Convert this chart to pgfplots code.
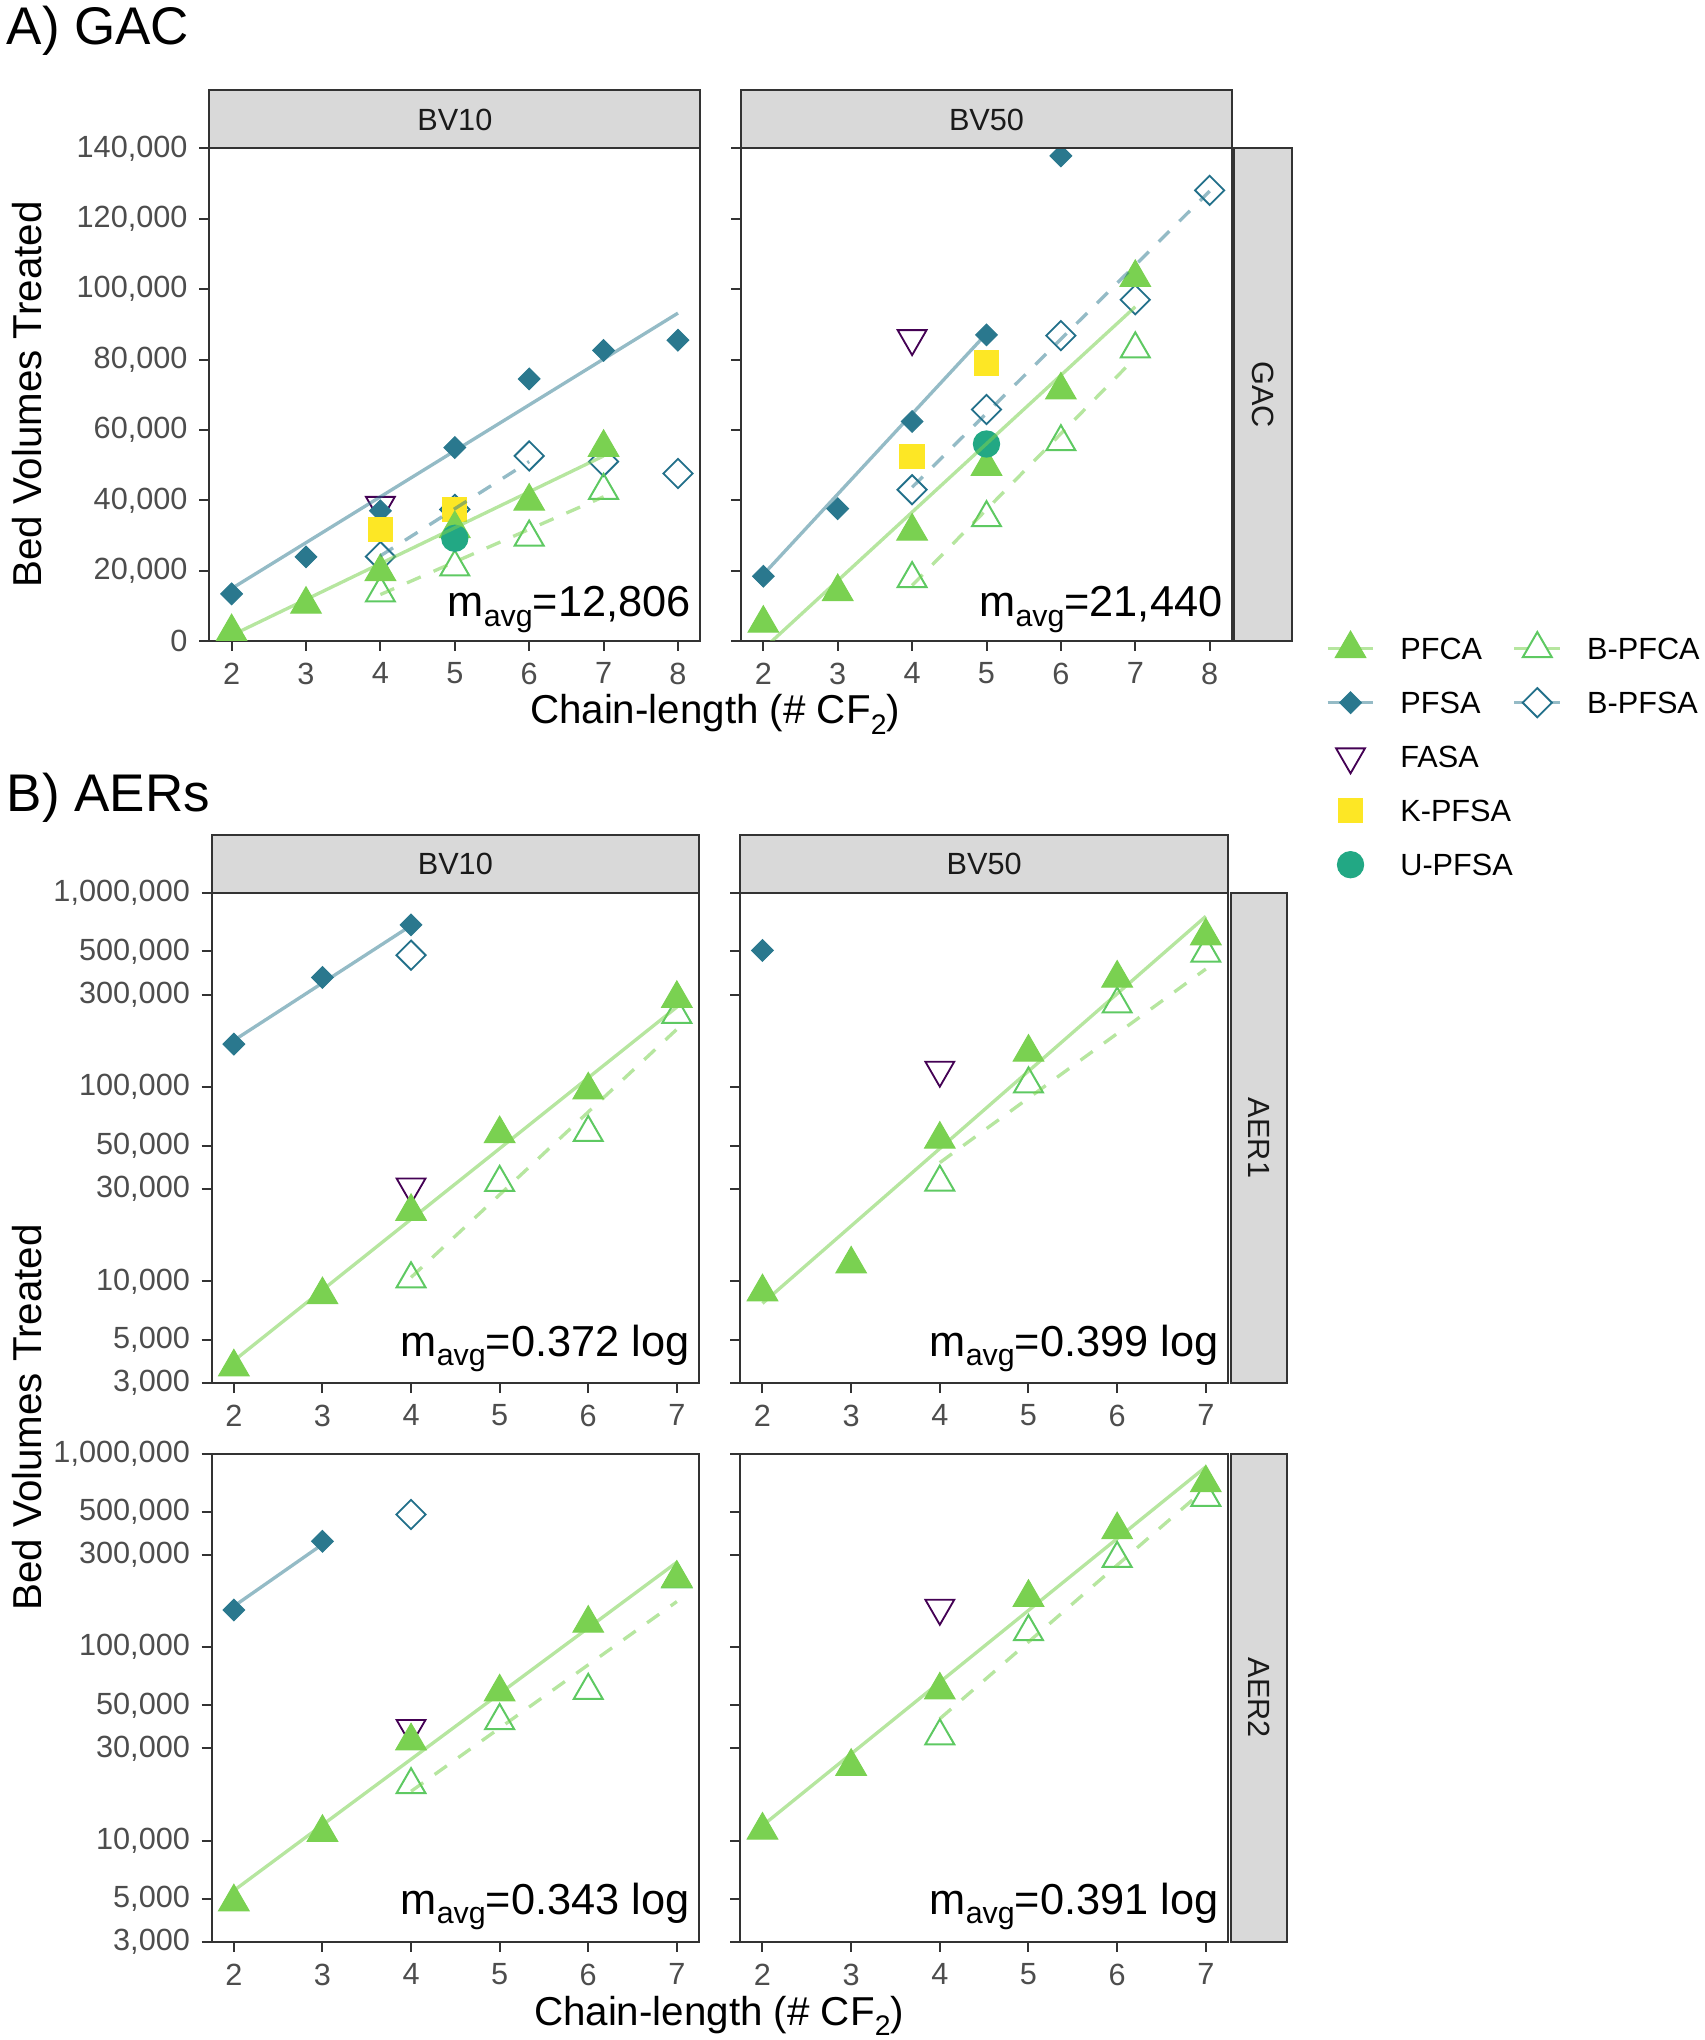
\documentclass[border=0pt]{standalone}
\usepackage{fontspec}
\setmainfont{Liberation Sans}
\usepackage{pgfplots}
\pgfplotsset{compat=1.18}

\definecolor{pfca}{HTML}{7AD151}
\definecolor{bpfca}{HTML}{5EC962}
\definecolor{pfsa}{HTML}{2A788E}
\definecolor{bpfsa}{HTML}{22708A}
\definecolor{fasa}{HTML}{440154}
\definecolor{kpfsa}{HTML}{FDE725}
\definecolor{upfsa}{HTML}{22A884}
\definecolor{grey20}{HTML}{333333}
\definecolor{grey30}{HTML}{4D4D4D}
\definecolor{grey85}{HTML}{D9D9D9}
\definecolor{grey10}{HTML}{1A1A1A}

\newcommand{\tsz}{\fontsize{9.2}{11}\selectfont}
\newcommand{\asz}{\fontsize{12.1}{14}\selectfont}
\newcommand{\msz}{\fontsize{13}{15}\selectfont}
\newcommand{\hsz}{\fontsize{15.9}{18}\selectfont}
\newcommand{\mavg}[1]{m\raisebox{-0.22em}{\fontsize{9.1}{9}\selectfont avg}=#1}

\pgfplotsset{
  panel/.style={scale only axis, anchor=north west, clip marker paths=true,
    tick align=outside, tick pos=left, major tick length=3pt,
    tick style={grey20, line width=0.6pt},
    axis line style={grey20, line width=0.6pt},
    tick label style={font=\tsz, text=grey30},
    scaled y ticks=false, yminorticks=false, xminorticks=false},
  panelA/.style={panel, xmin=1.7, xmax=8.3, ymin=0, ymax=140000,
    xtick={2,3,4,5,6,7,8}, xticklabels={2,3,4,5,6,7,8},
    ytick={0,20000,40000,60000,80000,100000,120000,140000},
    width=147.3pt, height=147.75pt},
  panelB/.style={panel, xmin=1.75, xmax=7.25, ymin=3000, ymax=1000000,
    xtick={2,3,4,5,6,7}, xticklabels={2,3,4,5,6,7},
    ytick={3000,5000,10000,30000,50000,100000,300000,500000,1000000}},
  sPFCA/.style={only marks, mark=triangle*, mark size=5.3pt, color=pfca, mark options={line width=0.3pt}},
  sBPFCA/.style={only marks, mark=triangle, mark size=5.0pt, color=bpfca, mark options={line width=0.6pt}},
  sPFSA/.style={only marks, mark=square*, mark size=2.3pt, color=pfsa, mark options={rotate=45, line width=0.3pt}},
  sBPFSA/.style={only marks, mark=square, mark size=3.1pt, color=bpfsa, mark options={rotate=45, line width=0.55pt}},
  sFASA/.style={only marks, mark=triangle, mark size=5.0pt, color=fasa, mark options={rotate=180, line width=0.55pt}},
  sK/.style={only marks, mark=square*, mark size=3.6pt, color=kpfsa},
  sU/.style={only marks, mark=*, mark size=3.9pt, color=upfsa},
  lPFCA/.style={no marks, line width=1.0pt, color=pfca, draw opacity=0.55},
  lBPFCA/.style={no marks, line width=1.0pt, color=pfca, draw opacity=0.55, dash pattern=on 4.5pt off 4.2pt},
  lPFSA/.style={no marks, line width=1.0pt, color=pfsa, draw opacity=0.5},
  lBPFSA/.style={no marks, line width=1.0pt, color=pfsa, draw opacity=0.5, dash pattern=on 4.5pt off 4.2pt},
}

\begin{document}
\begin{tikzpicture}
\path (0pt,0pt) rectangle (511.2pt,-612pt);

% ---------------- A) GAC, BV10
\begin{axis}[panelA, at={(62.79pt,-44.55pt)},
  yticklabels={0,{20,000},{40,000},{60,000},{80,000},{100,000},{120,000},{140,000}}]
\addplot[sFASA] coordinates {(4,38600)};
\addplot[sPFSA] coordinates {(2,13400)(3,23900)(4,37000)(5,55000)(6,74500)(7,82600)(8,85500)};
\addplot[sBPFSA] coordinates {(4,24000)(5,37400)(6,52600)(7,51000)(8,47600)};
\addplot[sBPFCA] coordinates {(4,13600)(5,21000)(6,29500)(7,42800)};
\addplot[sK] coordinates {(4,31600)(5,37400)};
\addplot[sPFCA] coordinates {(2,2600)(3,10400)(4,19700)(5,31900)(6,39700)(7,55000)};
\addplot[sU] coordinates {(5,29200)};
\addplot[lPFSA] coordinates {(2,14900)(8,93200)};
\addplot[lBPFSA] coordinates {(4,24200)(6,51000)};
\addplot[lPFCA] coordinates {(2,1600)(7,52600)};
\addplot[lBPFCA] coordinates {(4,13200)(7,41000)};
\node[anchor=base east, inner sep=0pt, font=\msz, xshift=-2.7pt, yshift=7.2pt] at (rel axis cs:1,0) {\mavg{12,806}};
\end{axis}

% ---------------- A) GAC, BV50
\begin{axis}[panelA, at={(222.3pt,-44.55pt)}, yticklabels={}]
\addplot[sFASA] coordinates {(4,86000)};
\addplot[sPFSA] coordinates {(2,18400)(3,37600)(4,62400)(5,87000)(6,137900)};
\addplot[sBPFSA] coordinates {(4,43000)(5,65800)(6,86800)(7,97000)(8,128100)};
\addplot[sBPFCA] coordinates {(4,17700)(5,35000)(6,56600)(7,83000)};
\addplot[sK] coordinates {(4,52400)(5,79000)};
\addplot[sPFCA] coordinates {(2,5000)(3,14000)(4,31200)(5,49600)(6,71300)(7,103300)};
\addplot[sU] coordinates {(5,56000)};
\addplot[lPFSA] coordinates {(2,18900)(5,87400)};
\addplot[lBPFSA] coordinates {(4,43700)(8,127900)};
\addplot[lPFCA] coordinates {(2,-2300)(7,95000)};
\addplot[lBPFCA] coordinates {(4,15800)(7,80500)};
\node[anchor=base east, inner sep=0pt, font=\msz, xshift=-2.7pt, yshift=7.2pt] at (rel axis cs:1,0) {\mavg{21,440}};
\end{axis}

% ---------------- B) AERs, AER1 BV10
\begin{axis}[ymode=log, panelB, at={(63.51pt,-267.9pt)}, width=146.19pt, height=147pt,
  yticklabels={{3,000},{5,000},{10,000},{30,000},{50,000},{100,000},{300,000},{500,000},{1,000,000}}]
\addplot[sFASA] coordinates {(4,30700)};
\addplot[sPFSA] coordinates {(2,166700)(3,367400)(4,685500)};
\addplot[sBPFSA] coordinates {(4,478600)};
\addplot[sBPFCA] coordinates {(4,10300)(5,32300)(6,58400)(7,236800)};
\addplot[sPFCA] coordinates {(2,3625)(3,8530)(4,22900)(5,57600)(6,96700)(7,286100)};
\addplot[lPFSA] coordinates {(2,174200)(4,679600)};
\addplot[lPFCA] coordinates {(2,3906)(7,258700)};
\addplot[lBPFCA] coordinates {(4,10490)(7,198800)};
\node[anchor=base east, inner sep=0pt, font=\msz, xshift=-2.7pt, yshift=8.1pt] at (rel axis cs:1,0) {\mavg{0.372 log}};
\end{axis}

% ---------------- AER1 BV50
\begin{axis}[ymode=log, panelB, at={(222.09pt,-267.9pt)}, width=146.31pt, height=147pt, yticklabels={}]
\addplot[sFASA] coordinates {(4,122600)};
\addplot[sPFSA] coordinates {(2,506000)};
\addplot[sBPFCA] coordinates {(4,32400)(5,103800)(6,267800)(7,488900)};
\addplot[sPFCA] coordinates {(2,8830)(3,12280)(4,53900)(5,151300)(6,364200)(7,601000)};
\addplot[lPFCA] coordinates {(2,7710)(7,758500)};
\addplot[lBPFCA] coordinates {(4,40900)(7,406000)};
\node[anchor=base east, inner sep=0pt, font=\msz, xshift=-2.7pt, yshift=8.1pt] at (rel axis cs:1,0) {\mavg{0.399 log}};
\end{axis}

% ---------------- AER2 BV10
\begin{axis}[ymode=log, panelB, at={(63.51pt,-436.05pt)}, width=146.19pt, height=146.55pt,
  yticklabels={{3,000},{5,000},{10,000},{30,000},{50,000},{100,000},{300,000},{500,000},{1,000,000}}]
\addplot[sFASA] coordinates {(4,38100)};
\addplot[sPFSA] coordinates {(2,155500)(3,352100)};
\addplot[sBPFSA] coordinates {(4,484100)};
\addplot[sBPFCA] coordinates {(4,19450)(5,41700)(6,59700)(7,225000)};
\addplot[sPFCA] coordinates {(2,4830)(3,11030)(4,32780)(5,58600)(6,132700)(7,226700)};
\addplot[lPFSA] coordinates {(2,162700)(3,339600)};
\addplot[lPFCA] coordinates {(2,5530)(7,274300)};
\addplot[lBPFCA] coordinates {(4,18000)(7,171900)};
\node[anchor=base east, inner sep=0pt, font=\msz, xshift=-2.7pt, yshift=8.4pt] at (rel axis cs:1,0) {\mavg{0.343 log}};
\end{axis}

% ---------------- AER2 BV50
\begin{axis}[ymode=log, panelB, at={(222.09pt,-436.05pt)}, width=146.31pt, height=146.55pt, yticklabels={}]
\addplot[sFASA] coordinates {(4,159100)};
\addplot[sBPFCA] coordinates {(4,34780)(5,120100)(6,287000)(7,593000)};
\addplot[sPFCA] coordinates {(2,11330)(3,24190)(4,59950)(5,180600)(6,403300)(7,705000)};
\addplot[lPFCA] coordinates {(2,11970)(7,853000)};
\addplot[lBPFCA] coordinates {(4,42660)(7,661300)};
\node[anchor=base east, inner sep=0pt, font=\msz, xshift=-2.7pt, yshift=8.4pt] at (rel axis cs:1,0) {\mavg{0.391 log}};
\end{axis}

% ---------------- strips
\begin{scope}[every node/.style={font=\tsz, text=grey10, inner sep=0pt}]
\filldraw[fill=grey85, draw=grey20, line width=0.6pt] (62.79pt,-27.12pt) rectangle (210.09pt,-44.55pt);
\node at (136.44pt,-35.84pt) {BV10};
\filldraw[fill=grey85, draw=grey20, line width=0.6pt] (222.3pt,-27.12pt) rectangle (369.6pt,-44.55pt);
\node at (295.95pt,-35.84pt) {BV50};
\filldraw[fill=grey85, draw=grey20, line width=0.6pt] (370.2pt,-44.55pt) rectangle (387.48pt,-192.3pt);
\node[rotate=-90] at (378.84pt,-118.43pt) {GAC};

\filldraw[fill=grey85, draw=grey20, line width=0.6pt] (63.51pt,-250.44pt) rectangle (209.7pt,-267.9pt);
\node at (136.6pt,-259.17pt) {BV10};
\filldraw[fill=grey85, draw=grey20, line width=0.6pt] (222.09pt,-250.44pt) rectangle (368.4pt,-267.9pt);
\node at (295.25pt,-259.17pt) {BV50};
\filldraw[fill=grey85, draw=grey20, line width=0.6pt] (369.15pt,-267.9pt) rectangle (386.1pt,-414.9pt);
\node[rotate=-90] at (377.63pt,-341.4pt) {AER1};
\filldraw[fill=grey85, draw=grey20, line width=0.6pt] (369.15pt,-436.05pt) rectangle (386.1pt,-582.6pt);
\node[rotate=-90] at (377.63pt,-509.3pt) {AER2};
\end{scope}

% ---------------- titles
\node[anchor=base west, font=\hsz, inner sep=0pt] at (1.8pt,-13.5pt) {A) GAC};
\node[anchor=base west, font=\hsz, inner sep=0pt] at (1.8pt,-243.5pt) {B) AERs};
\node[rotate=90, font=\asz, inner sep=0pt] at (8.1pt,-118.4pt) {Bed Volumes Treated};
\node[rotate=90, font=\asz, inner sep=0pt] at (8.1pt,-425.2pt) {Bed Volumes Treated};
\node[anchor=base, font=\asz, inner sep=0pt] at (214.5pt,-217.2pt) {Chain-length (\# CF\raisebox{-0.25em}{\fontsize{8.5}{9}\selectfont 2})};
\node[anchor=base, font=\asz, inner sep=0pt] at (215.7pt,-607.5pt) {Chain-length (\# CF\raisebox{-0.25em}{\fontsize{8.5}{9}\selectfont 2})};

% ---------------- legend
\begin{axis}[hide axis, scale only axis, anchor=north west, at={(0pt,0pt)},
  width=511.2pt, height=612pt, xmin=0, xmax=1, ymin=0, ymax=1,
  legend columns=2, legend cell align=left,
  legend style={at={(0.77817,0.6918)}, anchor=north west, draw=none, fill=none,
    inner sep=0pt, outer sep=0pt, row sep=4.2pt, column sep=0pt, font=\tsz,
    nodes={inner sep=0pt, text height=9.3pt, text depth=2.7pt}},
  legend image code/.code={\draw[mark repeat=2,mark phase=2] plot coordinates {(0pt,0pt)(6.85pt,0pt)(13.7pt,0pt)}; \path (21.3pt,0pt);}]
\addlegendimage{color=pfca!55!white, line width=1.0pt, mark=triangle*, mark size=5.3pt, mark options={draw=pfca, fill=pfca, line width=0.3pt}}
\addlegendentry{PFCA}
\addlegendimage{color=pfca!55!white, line width=1.0pt, mark=triangle*, mark size=5.0pt, mark options={solid, draw=bpfca, fill=white, line width=0.6pt}}
\addlegendentry{B-PFCA}
\addlegendimage{color=pfsa!50!white, line width=1.0pt, mark=square*, mark size=2.3pt, mark options={rotate=45, draw=pfsa, fill=pfsa, line width=0.3pt}}
\addlegendentry{PFSA}
\addlegendimage{color=pfsa!50!white, line width=1.0pt, mark=square*, mark size=3.1pt, mark options={solid, rotate=45, draw=bpfsa, fill=white, line width=0.55pt}}
\addlegendentry{B-PFSA}
\addlegendimage{sFASA}
\addlegendentry{FASA}
\addlegendimage{empty legend}
\addlegendentry{}
\addlegendimage{sK}
\addlegendentry{K-PFSA}
\addlegendimage{empty legend}
\addlegendentry{}
\addlegendimage{sU}
\addlegendentry{U-PFSA}
\end{axis}
\end{tikzpicture}
\end{document}
